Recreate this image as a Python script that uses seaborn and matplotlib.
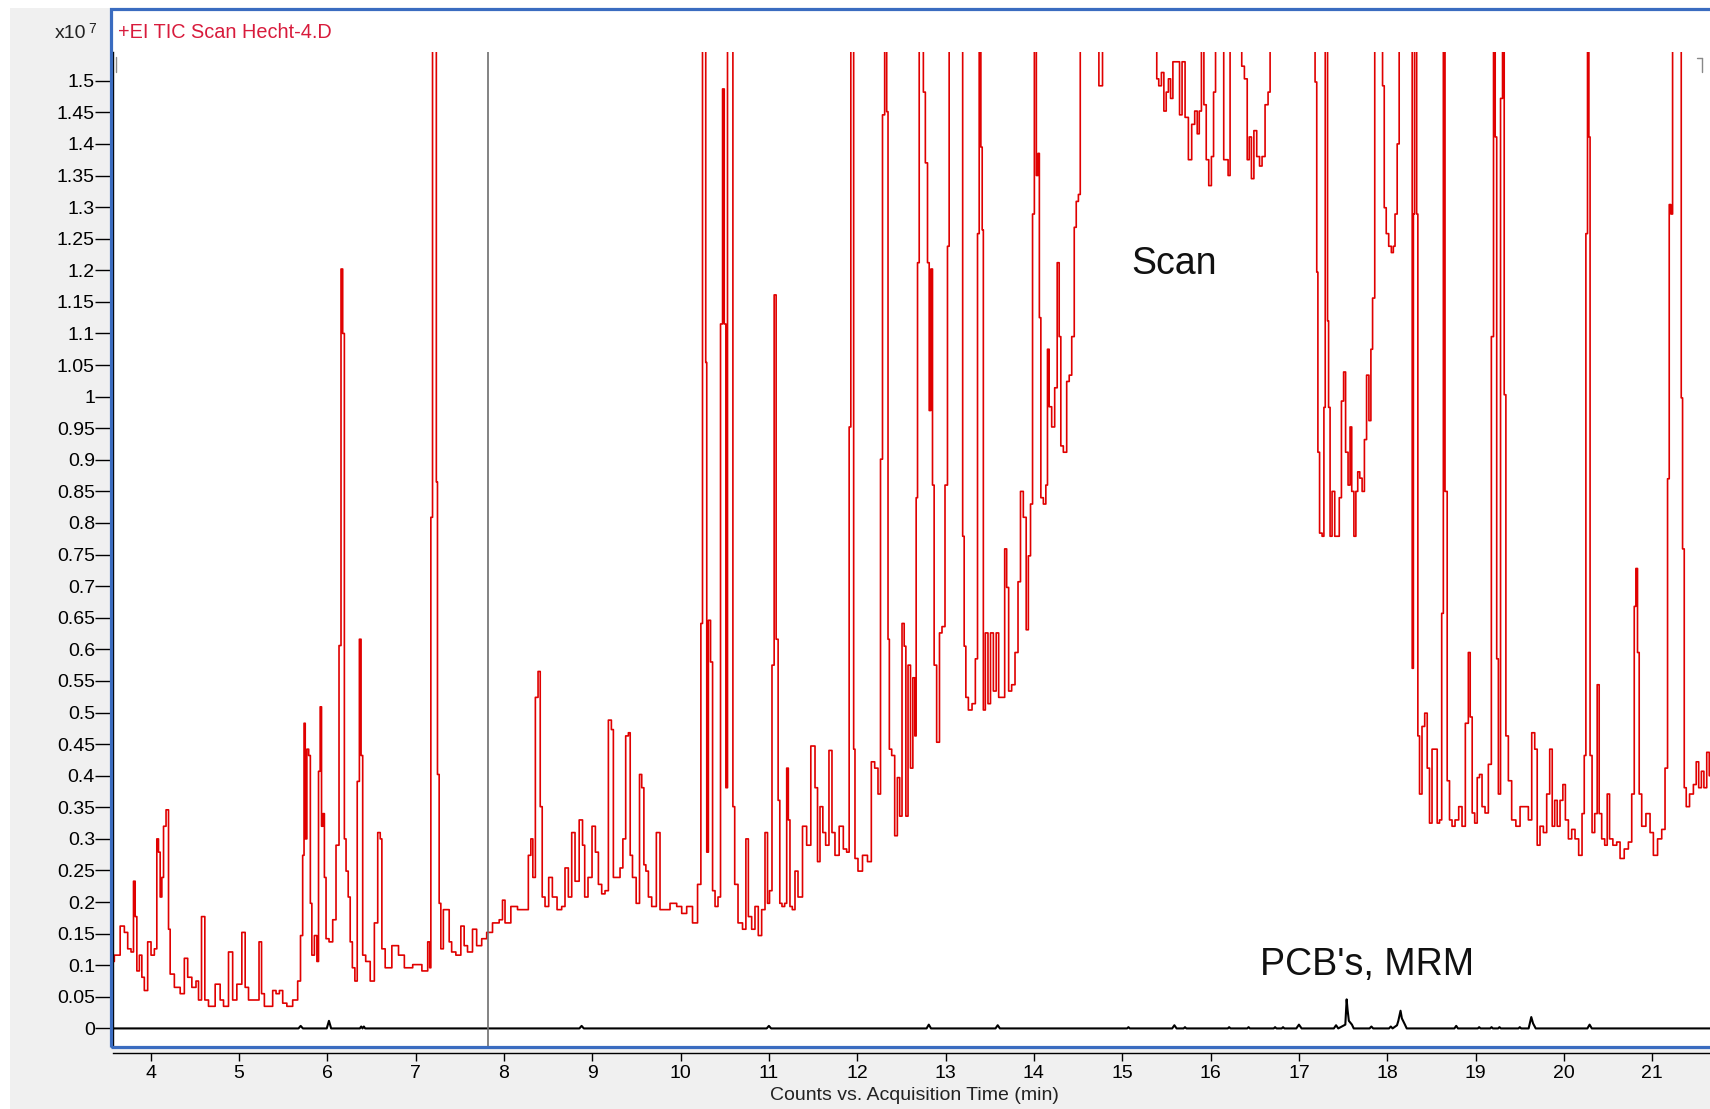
"""
Chromatogram: TIC scan (red) vs. PCB MRM trace (black), Agilent MassHunter look.
"""
import matplotlib

matplotlib.use("Agg")
import matplotlib.pyplot as plt
import numpy as np
import seaborn as sns
from matplotlib import font_manager
from matplotlib.lines import Line2D
from matplotlib.patches import Rectangle

# --- data: acquisition time (min) and counts (x10^7) ---
# values of 1.6 are peaks that run off the top of the plot
scan_time = [
    3.553, 3.628, 3.685, 3.723, 3.761, 3.798, 3.817, 3.836, 3.855, 3.893,
    3.911, 3.949, 3.987, 4.025, 4.062, 4.081, 4.100, 4.119, 4.138, 4.157,
    4.195, 4.213, 4.232, 4.308, 4.364, 4.402, 4.440, 4.496, 4.534, 4.553,
    4.602, 4.628, 4.685, 4.779, 4.798, 4.855, 4.911, 4.949, 5.006, 5.062,
    5.081, 5.138, 5.213, 5.244, 5.270, 5.308, 5.364, 5.402, 5.440, 5.478,
    5.515, 5.572, 5.647, 5.685, 5.711, 5.734, 5.742, 5.761, 5.779, 5.802,
    5.817, 5.836, 5.874, 5.893, 5.911, 5.930, 5.942, 5.961, 5.976, 5.998,
    6.044, 6.081, 6.119, 6.149, 6.164, 6.187, 6.202, 6.225, 6.251, 6.270,
    6.300, 6.327, 6.353, 6.376, 6.391, 6.413, 6.459, 6.515, 6.553, 6.591,
    6.610, 6.628, 6.685, 6.779, 6.836, 6.911, 7.025, 7.119, 7.157,
    7.164, 7.183, 7.202, 7.232, 7.239, 7.258, 7.277, 7.296, 7.334, 7.372,
    7.390, 7.428, 7.485, 7.541, 7.560, 7.617, 7.673, 7.711, 7.787, 7.824,
    7.919, 7.975, 7.994, 8.032, 8.126, 8.183, 8.258, 8.296, 8.315, 8.341,
    8.372, 8.402, 8.421, 8.447, 8.485, 8.530, 8.568, 8.636, 8.673, 8.711,
    8.749, 8.787, 8.824, 8.881, 8.900, 8.930, 8.975, 9.021, 9.051, 9.089,
    9.126, 9.164, 9.202, 9.232, 9.247, 9.296, 9.334, 9.360, 9.398, 9.421,
    9.439, 9.473, 9.522, 9.549, 9.572, 9.598, 9.617, 9.655, 9.692, 9.760,
    9.775, 9.843, 9.919, 9.994, 10.032, 10.107, 10.164, 10.221, 10.239, 10.258,
    10.281, 10.289, 10.304, 10.326, 10.353, 10.372, 10.409, 10.439, 10.466, 10.485,
    10.504, 10.522, 10.541, 10.587, 10.598, 10.628, 10.673, 10.730, 10.749,
    10.786, 10.824, 10.861, 10.899, 10.937, 10.975, 10.994, 11.020, 11.050, 11.069,
    11.095, 11.114, 11.133, 11.163, 11.194, 11.209, 11.231, 11.246, 11.284, 11.307,
    11.352, 11.409, 11.446, 11.503, 11.541, 11.560, 11.597, 11.624, 11.661, 11.699,
    11.729, 11.767, 11.824, 11.861, 11.899, 11.918, 11.937, 11.956, 11.963, 11.986,
    12.031, 12.088, 12.144, 12.175, 12.220, 12.250, 12.277, 12.295, 12.326, 12.341,
    12.356, 12.371, 12.409, 12.439, 12.469, 12.492, 12.522, 12.541, 12.560, 12.590,
    12.616, 12.643, 12.661, 12.673, 12.692, 12.711, 12.741, 12.756, 12.786, 12.805,
    12.824, 12.843, 12.861, 12.880, 12.918, 12.944, 12.975, 13.012, 13.031, 13.050,
    13.186, 13.201, 13.220, 13.239, 13.277, 13.322, 13.352, 13.371, 13.390, 13.409,
    13.420, 13.435, 13.465, 13.495, 13.522, 13.560, 13.586, 13.616, 13.654, 13.684,
    13.699, 13.729, 13.767, 13.805, 13.835, 13.861, 13.899, 13.926, 13.948, 13.975,
    13.994, 14.016, 14.039, 14.054, 14.069, 14.088, 14.126, 14.144, 14.163, 14.182,
    14.220, 14.250, 14.277, 14.295, 14.314, 14.352, 14.390,
    14.409, 14.447, 14.466, 14.492, 14.515, 14.534, 14.730, 14.741, 14.767, 14.786,
    15.383, 15.398, 15.428, 15.458, 15.484, 15.511, 15.534, 15.560, 15.586, 15.635,
    15.662, 15.692, 15.730, 15.767, 15.805, 15.835, 15.862, 15.881, 15.911, 15.937,
    15.964, 15.994, 16.024, 16.043, 16.069, 16.145, 16.152, 16.183, 16.213, 16.228,
    16.341, 16.364, 16.401, 16.428, 16.447, 16.477, 16.503, 16.541, 16.567, 16.598,
    16.635, 16.666, 16.681, 17.171, 17.194, 17.209, 17.220, 17.247, 17.277, 17.288,
    17.307, 17.322, 17.326, 17.345, 17.360, 17.390, 17.420, 17.447, 17.466, 17.496,
    17.515, 17.541, 17.571, 17.586, 17.609, 17.635, 17.654, 17.677, 17.700, 17.730,
    17.752, 17.779, 17.805, 17.824, 17.843, 17.873, 17.937, 17.956, 17.975, 18.001,
    18.031, 18.061, 18.076, 18.099, 18.125, 18.144, 18.276, 18.288, 18.303, 18.314,
    18.325, 18.340, 18.352, 18.378, 18.408, 18.439, 18.465, 18.491, 18.522, 18.552,
    18.578, 18.605, 18.627, 18.642, 18.665, 18.691, 18.718, 18.748, 18.786, 18.831,
    18.861, 18.906, 18.929, 18.948, 18.974, 19.005, 19.031, 19.057, 19.088, 19.125,
    19.163, 19.193, 19.212, 19.231, 19.246, 19.269, 19.295, 19.314, 19.333, 19.352,
    19.389, 19.427, 19.484, 19.522, 19.578, 19.616, 19.654, 19.684, 19.710, 19.748,
    19.786, 19.823, 19.854, 19.880, 19.910, 19.937, 19.974, 20.001, 20.031, 20.069,
    20.106, 20.144, 20.189, 20.220, 20.239, 20.257, 20.276, 20.288, 20.303, 20.333,
    20.363, 20.389, 20.408, 20.446, 20.476, 20.503, 20.529, 20.578, 20.616, 20.654,
    20.710, 20.748, 20.786, 20.805, 20.823, 20.842, 20.861, 20.899, 20.956, 20.993,
    21.031, 21.088, 21.125, 21.163, 21.182, 21.201, 21.220, 21.239, 21.322, 21.333,
    21.352, 21.371, 21.397, 21.446, 21.484, 21.510, 21.540, 21.571, 21.597, 21.635,
    21.654,
]
scan_counts = [
    .106, .116, .162, .152, .126, .121, .233, .177, .091, .116,
    .081, .060, .137, .116, .126, .300, .279, .208, .239, .320,
    .346, .157, .086, .065, .055, .111, .081, .065, .075, .045,
    .177, .045, .035, .070, .045, .035, .121, .045, .070, .152,
    .065, .045, .045, .137, .055, .035, .035, .060, .055, .060,
    .040, .035, .045, .075, .147, .274, .483, .300, .442, .432,
    .198, .116, .147, .106, .407, .509, .320, .340, .239, .142,
    .137, .172, .290, .606, 1.202, 1.100, .300, .249, .208, .137,
    .096, .075, .391, .616, .432, .116, .106, .075, .167, .310,
    .300, .126, .096, .131, .116, .096, .101, .091, .137,
    .096, .809, 1.6, 1.6, .865, .402, .198, .126, .188, .188,
    .137, .121, .116, .162, .131, .121, .157, .131, .142, .152,
    .167, .172, .203, .167, .193, .188, .188, .274, .300, .239,
    .524, .565, .351, .208, .193, .239, .208, .188, .193, .254,
    .208, .310, .233, .330, .290, .208, .239, .320, .279, .228,
    .213, .218, .488, .473, .239, .239, .254, .300, .463, .468,
    .274, .239, .198, .402, .381, .259, .249, .208, .193, .310,
    .188, .188, .198, .193, .182, .193, .167, .228, .641, 1.6,
    1.6, 1.054, .279, .646, .580, .218, .193, .208, 1.115, 1.487,
    1.115, .381, 1.6, 1.6, .351, .228, .167, .157, .300,
    .177, .157, .193, .147, .188, .310, .198, .218, .575, 1.161,
    .616, .361, .198, .193, .198, .412, .330, .193, .188, .249,
    .208, .320, .290, .447, .381, .264, .351, .310, .290, .440,
    .310, .274, .320, .284, .279, .952, 1.6, 1.6, .442, .269,
    .249, .274, .264, .422, .412, .371, .901, 1.446, 1.6, 1.451,
    .616, .442, .432, .305, .397, .336, .641, .605, .336, .575,
    .412, .555, .463, .840, 1.212, 1.6, 1.6, 1.482, 1.370, 1.212,
    .978, 1.202, .860, .575, .453, .626, .636, .860, 1.238, 1.6,
    1.6, .779, .605, .524, .504, .514, .585, 1.258, 1.6, 1.395,
    1.264, .504, .626, .514, .626, .534, .626, .524, .524, .759,
    .698, .534, .544, .595, .707, .850, .809, .631, .748, .830,
    1.289, 1.6, 1.350, 1.385, 1.125, .840, .830, .860, 1.075, .984,
    .952, 1.014, 1.212, 1.095, .922, .912, 1.024,
    1.034, 1.095, 1.268, 1.309, 1.320, 1.6, 1.6, 1.492, 1.492, 1.6,
    1.6, 1.503, 1.492, 1.513, 1.452, 1.482, 1.503, 1.472, 1.53, 1.53,
    1.446, 1.53, 1.442, 1.375, 1.431, 1.452, 1.416, 1.452, 1.6, 1.462,
    1.375, 1.334, 1.380, 1.482, 1.6, 1.6, 1.375, 1.375, 1.350, 1.6,
    1.6, 1.523, 1.503, 1.375, 1.411, 1.345, 1.421, 1.380, 1.365, 1.380,
    1.462, 1.482, 1.6, 1.6, 1.498, 1.197, .912, .784, .779, .983,
    1.6, 1.6, 1.120, .983, .779, .850, .779, .779, .840, .993,
    1.039, .912, .860, .952, .850, .779, .850, .881, .871, .850,
    .932, 1.034, .962, 1.075, 1.156, 1.6, 1.6, 1.492, 1.299, 1.258,
    1.238, 1.228, 1.238, 1.289, 1.400, 1.6, 1.6, .570, 1.289, 1.6,
    1.6, 1.289, .463, .371, .478, .499, .412, .325, .442, .442,
    .325, .330, .657, 1.6, .850, .392, .330, .320, .330, .351,
    .320, .483, .595, .493, .341, .325, .397, .402, .351, .341,
    .418, 1.095, 1.6, 1.411, .585, .371, 1.472, 1.6, 1.003, .463,
    .392, .330, .320, .351, .351, .330, .468, .442, .290, .320,
    .310, .371, .442, .320, .361, .320, .361, .386, .330, .300,
    .315, .300, .274, .340, .432, 1.258, 1.6, 1.411, .432, .310,
    .340, .544, .340, .300, .290, .371, .300, .290, .295, .269,
    .284, .295, .371, .668, .728, .595, .371, .320, .340, .310,
    .274, .300, .315, .412, .870, 1.304, 1.289, 1.6, 1.6, .998,
    .759, .381, .351, .371, .386, .422, .381, .407, .381, .437,
    .400,
]

# PCB's MRM trace, sits near zero with small peaks
mrm_time = [
    3.576, 5.675, 5.700, 5.725, 5.995, 6.020, 6.045, 6.370, 6.385, 6.400, 6.415, 6.430,
    8.855, 8.880, 8.905, 10.975, 11.000, 11.025, 12.785, 12.810, 12.835, 13.565, 13.590, 13.615,
    15.055, 15.070, 15.085, 15.565, 15.590, 15.615, 15.695, 15.710, 15.725, 16.195, 16.210, 16.225,
    16.415, 16.430, 16.445, 16.715, 16.730, 16.745, 16.805, 16.820, 16.835, 16.970, 17.000, 17.030,
    17.395, 17.420, 17.445, 17.525, 17.540, 17.550, 17.565, 17.600, 17.620, 17.800, 17.820, 17.840,
    18.020, 18.040, 18.060, 18.110, 18.125, 18.150, 18.165, 18.200, 18.220, 18.760, 18.780, 18.800,
    19.025, 19.040, 19.055, 19.165, 19.180, 19.195, 19.255, 19.270, 19.285, 19.485, 19.500, 19.515,
    19.600, 19.610, 19.630, 19.650, 19.680, 20.265, 20.290, 20.315, 21.653,
]
mrm_counts = [
    0, 0, .004, 0, 0, .012, 0, 0, .003, 0, .003, 0,
    0, .004, 0, 0, .004, 0, 0, .006, 0, 0, .005, 0,
    0, .002, 0, 0, .005, 0, 0, .002, 0, 0, .002, 0,
    0, .002, 0, 0, .002, 0, 0, .002, 0, 0, .006, 0,
    0, .005, 0, .006, .046, .030, .012, .006, 0, 0, .003, 0,
    0, .003, 0, .005, .012, .028, .016, .006, 0, 0, .004, 0,
    0, .002, 0, 0, .002, 0, 0, .002, 0, 0, .002, 0,
    0, .006, .018, .008, 0, 0, .006, 0, 0,
]

cursor_time = 7.82
x_ticks = list(range(4, 22))
y_ticks = [round(i * 0.05, 2) for i in range(31)]

# --- style ---
sns.set_theme(style="white")
plt.rcParams["font.family"] = ["Liberation Sans", "DejaVu Sans"]

try:
    font_manager.findfont("Liberation Sans Narrow", fallback_to_default=False)
    TICK_FONT, TICK_SIZE = ["Liberation Sans Narrow", "Liberation Sans"], 15
except ValueError:
    TICK_FONT, TICK_SIZE = ["Liberation Sans", "DejaVu Sans"], 14

W, H = 1710, 1109


def fx(px):
    return px / W


def fy(py):
    return 1 - py / H


fig = plt.figure(figsize=(W / 100, H / 100), dpi=100)
fig.patch.set_facecolor("white")

# grey window background + white chart panel
fig.patches.append(Rectangle((fx(10), 0), 1, fy(8), transform=fig.transFigure,
                             facecolor="#f0f0f0", edgecolor="none", zorder=-3))
fig.patches.append(Rectangle((fx(110), fy(1047)), 1, fy(9) - fy(1047),
                             transform=fig.transFigure, facecolor="white",
                             edgecolor="none", zorder=-2))

ax = fig.add_axes([fx(113), fy(1047), 1 - fx(113), fy(52.3) - fy(1047)])
ax.set_facecolor("none")

# step drawing gives the square, spiky look of the instrument trace
sns.lineplot(x=mrm_time, y=mrm_counts, ax=ax, color="black", lw=1.5,
             estimator=None, sort=False)
sns.lineplot(x=scan_time, y=scan_counts, ax=ax, color="#e00000", lw=1.2,
             estimator=None, sort=False, drawstyle="steps-mid")
ax.axvline(cursor_time, color="#6e6e6e", lw=1.2)

ax.set_xlim(3.5755, 21.653)
ax.set_ylim(-0.0294, 1.545)
ax.set_xlabel("")
ax.set_ylabel("")

for side in ("top", "right"):
    ax.spines[side].set_visible(False)
for side in ("left", "bottom"):
    ax.spines[side].set_color("black")
    ax.spines[side].set_linewidth(1.0)
ax.spines["bottom"].set_position(("outward", 4))

ax.set_xticks(x_ticks)
ax.set_xticklabels([str(t) for t in x_ticks], fontfamily=TICK_FONT, fontsize=TICK_SIZE)
ax.set_yticks(y_ticks)
ax.set_yticklabels([f"{v:g}" for v in y_ticks], fontfamily=TICK_FONT, fontsize=TICK_SIZE)
ax.tick_params(axis="x", direction="out", length=6, width=1, pad=3, colors="black",
               bottom=True)
ax.tick_params(axis="y", direction="out", length=13, width=1, pad=0, colors="black",
               left=True)

# blue frame drawn over the axes
fig.patches.append(Rectangle((fx(110.5), fy(1047)), 1, fy(9) - fy(1047),
                             transform=fig.transFigure, facecolor="none",
                             edgecolor="#3a6cc0", lw=2.3, zorder=5))

# header texts
fig.text(fx(118), fy(33), "+EI TIC Scan Hecht-4.D", color="#d81b3c",
         fontsize=14.3, ha="left", va="center")
fig.text(fx(86), fy(34), "x10", color="#222222", fontsize=14, ha="right", va="center")
fig.text(fx(88), fy(29), "7", color="#222222", fontsize=10, ha="left", va="center")

# small cursor marks in the corners
fig.add_artist(Line2D([fx(116), fx(116)], [fy(57), fy(72)], color="#888888", lw=1))
fig.add_artist(Line2D([fx(1697), fx(1702)], [fy(58), fy(58)], color="#888888", lw=1))
fig.add_artist(Line2D([fx(1702), fx(1702)], [fy(58), fy(72)], color="#888888", lw=1))

# annotations
fig.text(fx(1131), fy(264), "Scan", fontsize=27, color="#111111", ha="left", va="center")
fig.text(fx(1260), fy(965), "PCB's, MRM", fontsize=27, color="#111111",
         ha="left", va="center")

fig.text(fx(914), fy(1095), "Counts vs. Acquisition Time (min)", fontsize=14,
         color="#222222", ha="center", va="center")

fig.savefig("out.png", dpi=100, facecolor=fig.get_facecolor())
plt.close(fig)
